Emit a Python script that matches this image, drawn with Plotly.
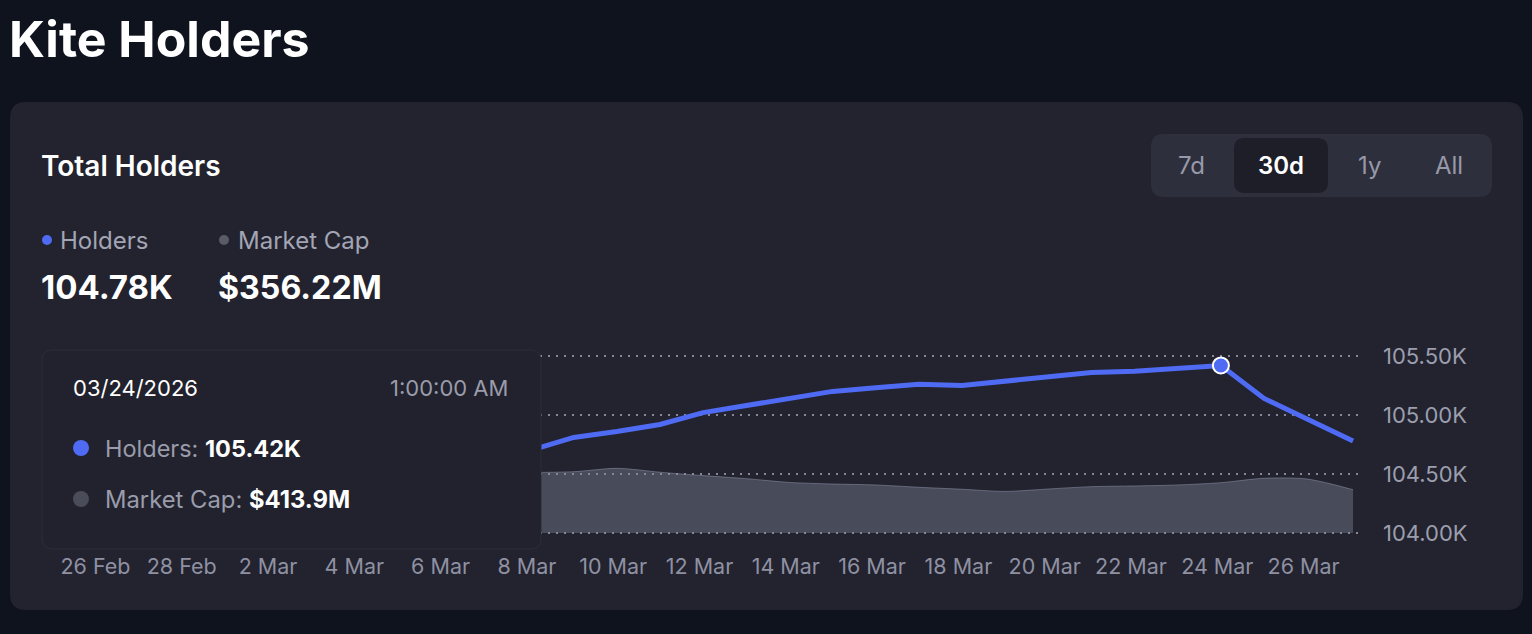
import plotly.graph_objects as go
from datetime import datetime, timedelta

W, H = 1532, 634

# ---------------- data ----------------
dates = [
    "2026-03-08 02:00", "2026-03-09 02:00", "2026-03-10 02:00", "2026-03-11 02:00",
    "2026-03-12 02:00", "2026-03-13 02:00", "2026-03-14 02:00", "2026-03-15 02:00",
    "2026-03-16 02:00", "2026-03-17 02:00", "2026-03-18 02:00", "2026-03-19 02:00",
    "2026-03-20 02:00", "2026-03-21 02:00", "2026-03-22 02:00", "2026-03-23 02:00",
    "2026-03-24 02:00", "2026-03-25 02:00", "2026-03-26 02:00", "2026-03-27 03:30",
]
holders_k = [104.70, 104.81, 104.86, 104.92, 105.02, 105.08, 105.15, 105.20,
             105.23, 105.26, 105.25, 105.29, 105.33, 105.36, 105.37, 105.39,
             105.42, 105.14, 104.96, 104.78]
market_cap_m = [498, 504, 532, 500, 472, 447, 416, 403,
                395, 376, 360, 342, 362, 381, 387, 395,
                413.9, 450, 444, 356.22]

x_tick_vals = ["2026-02-26", "2026-02-28", "2026-03-02", "2026-03-04", "2026-03-06",
               "2026-03-08", "2026-03-10", "2026-03-12", "2026-03-14", "2026-03-16",
               "2026-03-18", "2026-03-20", "2026-03-22", "2026-03-24", "2026-03-26"]
x_tick_text = ["26 Feb", "28 Feb", "2 Mar", "4 Mar", "6 Mar", "8 Mar", "10 Mar", "12 Mar",
               "14 Mar", "16 Mar", "18 Mar", "20 Mar", "22 Mar", "24 Mar", "26 Mar"]
y_tick_vals = [104.0, 104.5, 105.0, 105.5]
y_tick_text = ["104.00K", "104.50K", "105.00K", "105.50K"]

hover_index = 16
hover_date = "03/24/2026"
hover_time = "1:00:00 AM"
current_holders = "104.78K"
current_mcap = "$356.22M"

# ---------------- style ----------------
PAGE_BG = "#0f131e"
CARD_BG = "#22232f"
BLUE = "#4f6bf3"
GRAY_TXT = "#a3a5b4"
TICK_TXT = "#8f91a2"
FONT = "Inter"

def px(x):
    return x / W

def py(y):
    return 1 - y / H

# plot area (pixels): 105.5K at y=356, 104.0K at y=533; padded so edge gridlines draw
PL, PR = 60, 1362
Y_TOP_PX, Y_BOT_PX = 356, 533
PAD = 6
PT, PB = Y_TOP_PX - PAD, Y_BOT_PX + PAD
k_per_px = 1.5 / (Y_BOT_PX - Y_TOP_PX)
y_range = [104.0 - PAD * k_per_px, 105.5 + PAD * k_per_px]
mcap_full = 1456.0
m_per_px = mcap_full / (Y_BOT_PX - Y_TOP_PX)
y2_range = [-PAD * m_per_px, mcap_full + PAD * m_per_px]

anchor_px = 1217.3           # 24 Mar 00:00
px_per_day = 43.15
anchor_t = datetime(2026, 3, 24)
t0 = anchor_t + timedelta(days=(PL - anchor_px) / px_per_day)
t1 = anchor_t + timedelta(days=(PR - anchor_px) / px_per_day)


def rrect(x0, y0, x1, y1, r):
    X0, X1 = px(x0), px(x1)
    Y0, Y1 = py(y0), py(y1)
    rx, ry = r / W, r / H
    return (f"M {X0+rx},{Y0} L {X1-rx},{Y0} Q {X1},{Y0} {X1},{Y0-ry} "
            f"L {X1},{Y1+ry} Q {X1},{Y1} {X1-rx},{Y1} L {X0+rx},{Y1} "
            f"Q {X0},{Y1} {X0},{Y1+ry} L {X0},{Y0-ry} Q {X0},{Y0} {X0+rx},{Y0} Z")


fig = go.Figure()

fig.add_trace(go.Scatter(
    x=dates, y=market_cap_m, yaxis="y2", mode="lines",
    line=dict(color="rgba(140,143,165,0.55)", width=1, shape="spline", smoothing=0.8),
    fill="tozeroy", fillcolor="rgba(131,135,156,0.40)",
    hoverinfo="skip", showlegend=False,
))
fig.add_trace(go.Scatter(
    x=dates, y=holders_k, mode="lines",
    line=dict(color=BLUE, width=5),
    hoverinfo="skip", showlegend=False,
))
fig.add_trace(go.Scatter(
    x=[dates[hover_index]], y=[holders_k[hover_index]], mode="markers",
    marker=dict(size=16, color=BLUE, line=dict(color="white", width=2)),
    hoverinfo="skip", showlegend=False,
))

shapes = [
    dict(type="path", xref="paper", yref="paper", path=rrect(10, 102, 1523, 610, 16),
         fillcolor=CARD_BG, line=dict(width=0), layer="below"),
    dict(type="path", xref="paper", yref="paper", path=rrect(1151, 134, 1492, 197, 13),
         fillcolor="#2e2f3c", line=dict(width=0), layer="below"),
    dict(type="path", xref="paper", yref="paper", path=rrect(1234, 138, 1328, 193, 11),
         fillcolor="#1d1e28", line=dict(width=0), layer="below"),
    dict(type="circle", xref="paper", yref="paper", x0=px(42), x1=px(52), y0=py(235), y1=py(245),
         fillcolor=BLUE, line=dict(width=0)),
    dict(type="circle", xref="paper", yref="paper", x0=px(219), x1=px(229), y0=py(235), y1=py(245),
         fillcolor="#595b69", line=dict(width=0)),
    dict(type="path", xref="paper", yref="paper", path=rrect(42, 350, 541, 549, 11),
         fillcolor="#21222d", line=dict(width=1, color="#2b2d39"), layer="above"),
    dict(type="circle", xref="paper", yref="paper", x0=px(73), x1=px(89), y0=py(440), y1=py(456),
         fillcolor=BLUE, line=dict(width=0), layer="above"),
    dict(type="circle", xref="paper", yref="paper", x0=px(73), x1=px(89), y0=py(491), y1=py(507),
         fillcolor="#4a4c5a", line=dict(width=0), layer="above"),
]

def ann(text, x, y, size, color, weight="normal", xanchor="left"):
    return dict(text=text, x=px(x), y=py(y), xref="paper", yref="paper",
                xanchor=xanchor, yanchor="middle", showarrow=False,
                font=dict(family=FONT, size=size, color=color, weight=weight))

annotations = [
    ann("Kite Holders", 7, 39, 50, "#ffffff", "bold"),
    ann("Total Holders", 39, 166, 28, "#ffffff", 600),
    ann("7d", 1191, 166, 24, "#9799a9", xanchor="center"),
    ann("30d", 1281, 166, 24, "#ffffff", 600, xanchor="center"),
    ann("1y", 1369, 166, 24, "#9799a9", xanchor="center"),
    ann("All", 1449, 166, 24, "#9799a9", xanchor="center"),
    ann("Holders", 58, 240, 24, GRAY_TXT),
    ann("Market Cap", 236, 240, 24, GRAY_TXT),
    ann(current_holders, 39, 287, 33, "#ffffff", "bold"),
    ann(current_mcap, 216, 287, 32.2, "#ffffff", "bold"),
    ann(hover_date, 71, 388, 22, "#ffffff"),
    ann(hover_time, 510, 388, 22, "#9a9cab", xanchor="right"),
    ann(f"<span style='color:#9a9cab'>Holders: </span><b>{holders_k[hover_index]:.2f}K</b>",
        103, 448, 23.5, "#ffffff"),
    ann(f"<span style='color:#9a9cab'>Market Cap: </span><b>${market_cap_m[hover_index]:.1f}M</b>",
        103, 499, 23.8, "#ffffff"),
]

fig.update_layout(
    template="none",
    width=W, height=H, autosize=False,
    margin=dict(l=0, r=0, t=0, b=0, pad=0),
    paper_bgcolor=PAGE_BG, plot_bgcolor="rgba(0,0,0,0)",
    font=dict(family=FONT),
    shapes=shapes, annotations=annotations,
    showlegend=False,
    xaxis=dict(
        type="date", domain=[px(PL), px(PR)], range=[t0, t1],
        tickvals=x_tick_vals, ticktext=x_tick_text,
        showgrid=False, zeroline=False, showline=False, ticks="",
        tickfont=dict(family=FONT, size=21.5, color=TICK_TXT),
        ticklabelstandoff=12, automargin=False,
    ),
    yaxis=dict(
        domain=[1 - PB / H, 1 - PT / H], range=y_range,
        side="right", tickvals=y_tick_vals, ticktext=y_tick_text,
        showgrid=True, gridcolor="#858797", gridwidth=2, griddash="2px,6px",
        zeroline=False, showline=False, ticks="",
        tickfont=dict(family=FONT, size=22, color="#9c9eae"),
        ticklabelstandoff=20, automargin=False,
    ),
    yaxis2=dict(overlaying="y", range=y2_range, visible=False, automargin=False),
)

fig.write_html(
    "out.html",
    config={"displayModeBar": False},
    post_script="document.body.style.margin='0';document.body.style.overflow='hidden';",
)
